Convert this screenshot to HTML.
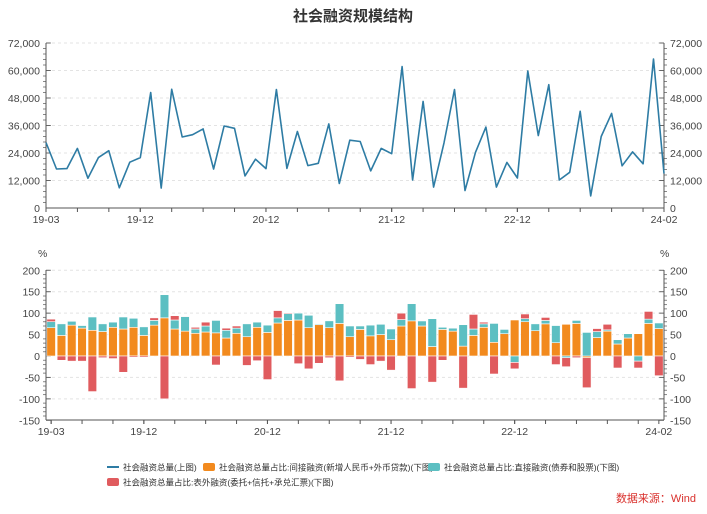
<!DOCTYPE html>
<html><head><meta charset="utf-8">
<style>
body{margin:0;background:#fff;font-family:"Liberation Sans","Noto Sans CJK SC",sans-serif;}
svg text{font-family:"Liberation Sans","Noto Sans CJK SC",sans-serif;}
</style></head>
<body>
<svg id="c" width="707" height="509" viewBox="0 0 707 509">
<text x="353" y="21" text-anchor="middle" font-size="15" font-weight="bold" fill="#333">社会融资规模结构</text>
<text x="696" y="502" text-anchor="end" font-size="11" fill="#d9302c">数据来源：Wind</text>
</svg>
<script>
const months=["19-03","19-04","19-05","19-06","19-07","19-08","19-09","19-10","19-11","19-12","20-01","20-02","20-03","20-04","20-05","20-06","20-07","20-08","20-09","20-10","20-11","20-12","21-01","21-02","21-03","21-04","21-05","21-06","21-07","21-08","21-09","21-10","21-11","21-12","22-01","22-02","22-03","22-04","22-05","22-06","22-07","22-08","22-09","22-10","22-11","22-12","23-01","23-02","23-03","23-04","23-05","23-06","23-07","23-08","23-09","23-10","23-11","23-12","24-01","24-02"];
const totalFlow=[28600,17000,17200,26000,13000,22000,25000,8800,20000,22000,50400,8700,51800,31000,32000,34500,17000,35800,34800,14000,21300,17200,51700,17300,33400,18500,19500,36700,10700,29600,29000,16200,26000,23700,61700,12200,46500,9100,28400,51700,7600,24300,35300,9100,19900,13100,59800,31600,53800,12200,15600,42200,5300,31200,41300,18400,24500,19300,65000,15000];
const indirectPct=[66,48,72,65,60,57,67,63,67,48,72,89,63,58,53,56,54,42,53,45,67,55,77,83,84,66,73,66,76,45,62,47,50,38,70,82,70,22,62,58,23,48,67,32,52,84,80,59,75,31,74,76,-4,43,58,28,42,52,76,64];
const directPct=[14,27,9,6,31,18,12,28,21,20,11,54,21,34,10,14,29,18,12,30,12,17,12,16,16,29,2,16,46,25,8,25,24,25,15,40,12,65,5,7,50,15,8,44,10,-15,7,16,8,40,-4,7,55,14,3,10,10,-12,10,13];
const offPct=[6,-10,-12,-12,-83,-4,-6,-38,-3,-3,6,-100,10,1,4,9,-21,5,5,-22,-11,-55,17,2,-18,-30,-17,-4,-58,-3,-8,-20,-12,-33,15,-76,1,-61,-10,1,-75,34,4,-42,0,-15,11,0,7,-20,-21,-4,-70,7,13,-28,0,-16,18,-46];
const topTicks=[0,12000,24000,36000,48000,60000,72000];
const botTicks=[-150,-100,-50,0,50,100,150,200];
const labelIdx=[0,9,21,33,45,59];

const svg=document.getElementById('c');const NS='http://www.w3.org/2000/svg';
function mk(t,a,p){const e=document.createElementNS(NS,t);for(const k in a)e.setAttribute(k,a[k]);(p||svg).appendChild(e);return e;}
const X0=46,X1=664,N=months.length;
// top axes
const yT=v=>208-(v/72000)*165;
const xT=i=>X0+(X1-X0)*i/(N-1);
// bottom axes
const yB=v=>356-(v/50)*21.43;
const bw=(X1-X0)/N;
const xB=i=>X0+bw*(i+0.5);
const fmt=v=>v.toLocaleString('en-US');

function axes(yf,ticks,yTop,yBot,isTop){
  const g=mk('g',{});
  
  
  ticks.forEach(t=>{
    if(t!==ticks[0]){const gl=mk('line',{x1:X0,x2:X1,y1:yf(t),y2:yf(t),stroke:'#e3e3e3','stroke-dasharray':'3,3'},g);
    }
    [[X0,'end',-4],[X1,'start',4]].forEach(([x,an,d])=>{
      mk('line',{x1:x,x2:x-d*1.2,y1:yf(t),y2:yf(t),stroke:'#666'},g);
      const tx=mk('text',{x:x+d*1.5,y:yf(t)+4,'text-anchor':an,'font-size':10.5,fill:'#444'},g);tx.textContent=isTop?fmt(t):t;
      
    });
  });
  for(let k=0;k<ticks.length-1;k++){const a=ticks[k],b=ticks[k+1];for(let m=1;m<5;m++){const v=a+(b-a)*m/5;
    mk('line',{x1:X0,x2:X0-3,y1:yf(v),y2:yf(v),stroke:'#888'},g);mk('line',{x1:X1,x2:X1+3,y1:yf(v),y2:yf(v),stroke:'#888'},g);}}
  mk('line',{x1:X0,x2:X0,y1:yTop,y2:yBot,stroke:'#555'},g);
  mk('line',{x1:X1,x2:X1,y1:yTop,y2:yBot,stroke:'#555'},g);
  mk('line',{x1:X0,x2:X1,y1:yBot,y2:yBot,stroke:'#555'},g);
  const xf=isTop?xT:xB;
  for(let i=0;i<N;i+=3){mk('line',{x1:xf(i),x2:xf(i),y1:yBot,y2:yBot+4,stroke:'#555'},g);}
  labelIdx.forEach(i=>{mk('line',{x1:xf(i),x2:xf(i),y1:yBot,y2:yBot+4,stroke:'#555'},g);
    const tx=mk('text',{x:xf(i),y:yBot+15,'text-anchor':'middle','font-size':10.5,fill:'#444'},g);tx.textContent=months[i];
    });
}
axes(yT,topTicks,43,208,true);
axes(yB,botTicks,270,420,false);
[[X0-8],[X1-4]].forEach(([x])=>{const t=mk('text',{x:x,y:257,'font-size':10.5,fill:'#444'});t.textContent='%';
});

// bars
const cols=['#f28a1e','#5cbfc2','#e05b5e'];
const series=[indirectPct,directPct,offPct];
const bg=mk('g',{});
for(let i=0;i<N;i++){let pos=0,neg=0;
  series.forEach((s,k)=>{const v=s[i];if(!v)return;let a,b;
    if(v>0){a=pos;b=pos+v;pos=b;}else{a=neg;b=neg+v;neg=b;}
    const r=mk('rect',{x:xB(i)-bw*0.42,width:bw*0.84,y:Math.min(yB(a),yB(b)),height:Math.abs(yB(a)-yB(b)),fill:cols[k],stroke:'#fff','stroke-width':0.6},bg);
    
  });}
// line
const pts=totalFlow.map((v,i)=>xT(i).toFixed(1)+','+yT(v).toFixed(1)).join(' ');
const ln=mk('polyline',{points:pts,fill:'none',stroke:'#2e7ca4','stroke-width':1.6,'stroke-linejoin':'round'});


// legend
const leg=[['line','#2e7ca4','社会融资总量(上图)',107,467],['rect','#f28a1e','社会融资总量占比:间接融资(新增人民币+外币贷款)(下图)',203,467],['rect','#5cbfc2','社会融资总量占比:直接融资(债券和股票)(下图)',428,467],['rect','#e05b5e','社会融资总量占比:表外融资(委托+信托+承兑汇票)(下图)',107,482]];
leg.forEach(([t,c,s,x,y])=>{const g=mk('g',{});
  if(t==='line')mk('line',{x1:x,x2:x+12,y1:y,y2:y,stroke:c,'stroke-width':2},g);else mk('rect',{x:x,y:y-4,width:12,height:8,rx:2,fill:c},g);
  const tx=mk('text',{x:x+16,y:y+3.5,'font-size':8.5,fill:'#333'},g);tx.textContent=s;});
</script>
</body></html>
